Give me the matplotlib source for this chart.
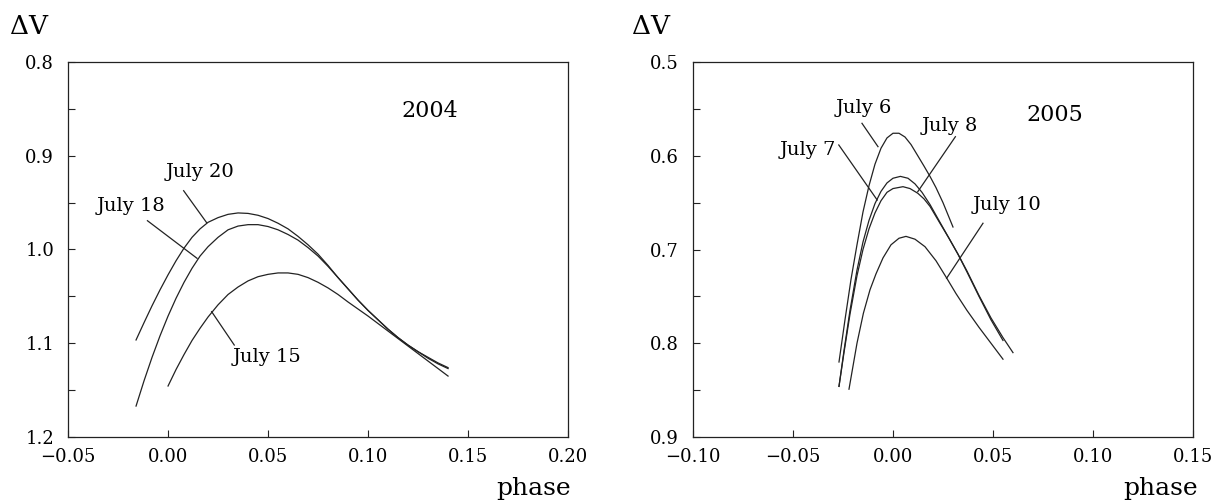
import matplotlib
matplotlib.use('Agg')
import matplotlib.pyplot as plt
from matplotlib.ticker import MultipleLocator, FuncFormatter

plt.rcParams['font.family'] = 'DejaVu Serif'

# ---- 2004 light curves (phase, delta V) ----
jul20_x = [-0.016, -0.012, -0.008, -0.004, 0.0, 0.004, 0.008, 0.012, 0.016, 0.020,
           0.025, 0.030, 0.035, 0.040, 0.045, 0.050, 0.055, 0.060, 0.065, 0.070,
           0.075, 0.080, 0.085, 0.090, 0.095, 0.100, 0.105, 0.110, 0.115, 0.120,
           0.125, 0.130, 0.135, 0.140]
jul20_y = [1.0965, 1.078, 1.060, 1.043, 1.027, 1.012, 0.9985, 0.987, 0.978, 0.971,
           0.966, 0.9625, 0.961, 0.9615, 0.9635, 0.967, 0.972, 0.978, 0.986, 0.995,
           1.005, 1.017, 1.030, 1.042, 1.054, 1.065, 1.075, 1.085, 1.094, 1.102,
           1.109, 1.115, 1.121, 1.126]

jul18_x = [-0.016, -0.012, -0.008, -0.004, 0.0, 0.004, 0.008, 0.012, 0.016, 0.020,
           0.025, 0.030, 0.035, 0.040, 0.045, 0.050, 0.055, 0.060, 0.065, 0.070,
           0.075, 0.080, 0.085, 0.090, 0.095, 0.100, 0.105, 0.110, 0.115, 0.120,
           0.125, 0.130, 0.135, 0.140]
jul18_y = [1.167, 1.140, 1.115, 1.092, 1.071, 1.052, 1.035, 1.020, 1.007, 0.997,
           0.987, 0.979, 0.975, 0.9735, 0.9735, 0.9755, 0.979, 0.984, 0.990, 0.998,
           1.007, 1.018, 1.030, 1.042, 1.054, 1.065, 1.075, 1.085, 1.094, 1.102,
           1.109, 1.116, 1.122, 1.127]

jul15_x = [0.0, 0.004, 0.008, 0.012, 0.016, 0.020, 0.025, 0.030, 0.035, 0.040,
           0.045, 0.050, 0.055, 0.060, 0.065, 0.070, 0.075, 0.080, 0.085, 0.090,
           0.095, 0.100, 0.105, 0.110, 0.115, 0.120, 0.125, 0.130, 0.135, 0.140]
jul15_y = [1.1456, 1.128, 1.112, 1.097, 1.084, 1.072, 1.059, 1.048, 1.040, 1.0335,
           1.029, 1.0265, 1.025, 1.025, 1.0265, 1.030, 1.035, 1.041, 1.048, 1.056,
           1.0635, 1.071, 1.079, 1.087, 1.095, 1.103, 1.111, 1.119, 1.127, 1.135]

# ---- 2005 light curves ----
jul6_x = [-0.027, -0.024, -0.021, -0.018, -0.015, -0.012, -0.009, -0.006, -0.003, 0.0,
          0.003, 0.006, 0.009, 0.0124, 0.0155, 0.0185, 0.0215, 0.025, 0.030]
jul6_y = [0.820, 0.775, 0.732, 0.695, 0.660, 0.632, 0.609, 0.592, 0.581, 0.576,
          0.576, 0.580, 0.588, 0.600, 0.611, 0.622, 0.634, 0.650, 0.676]

jul7_x = [-0.027, -0.0245, -0.0215, -0.018, -0.015, -0.012, -0.009, -0.006, -0.003, 0.0,
          0.0037, 0.0075, 0.011, 0.0145, 0.0185, 0.0235, 0.028, 0.0325, 0.037, 0.043,
          0.049, 0.055]
jul7_y = [0.846, 0.808, 0.765, 0.722, 0.692, 0.669, 0.651, 0.638, 0.629, 0.624,
          0.622, 0.624, 0.630, 0.639, 0.652, 0.671, 0.688, 0.705, 0.724, 0.750,
          0.775, 0.797]

jul8_x = [-0.027, -0.0245, -0.0215, -0.018, -0.015, -0.012, -0.009, -0.006, -0.003, 0.0,
          0.005, 0.0085, 0.0124, 0.0155, 0.0185, 0.0235, 0.028, 0.0325, 0.037, 0.043,
          0.049, 0.055, 0.060]
jul8_y = [0.846, 0.810, 0.769, 0.728, 0.700, 0.678, 0.661, 0.648, 0.639, 0.635,
          0.633, 0.635, 0.640, 0.646, 0.654, 0.672, 0.688, 0.705, 0.723, 0.749,
          0.773, 0.794, 0.810]

jul10_x = [-0.022, -0.018, -0.0148, -0.0115, -0.0085, -0.005, -0.001, 0.003, 0.0065,
           0.011, 0.016, 0.0215, 0.027, 0.0315, 0.037, 0.043, 0.049, 0.055]
jul10_y = [0.849, 0.800, 0.768, 0.743, 0.726, 0.709, 0.695, 0.688, 0.686,
           0.689, 0.697, 0.712, 0.731, 0.747, 0.765, 0.783, 0.800, 0.817]

LW = 0.9
COL = '#222222'


def minus_fmt(fmt):
    return FuncFormatter(lambda v, p: (fmt % v).replace('-', '\u2212'))


def style_axes(ax, xlim, ylim):
    ax.set_xlim(*xlim)
    ax.set_ylim(*ylim)  # inverted magnitude axis
    ax.xaxis.set_major_locator(MultipleLocator(0.05))
    ax.yaxis.set_major_locator(MultipleLocator(0.1))
    ax.yaxis.set_minor_locator(MultipleLocator(0.05))
    ax.xaxis.set_major_formatter(minus_fmt('%.2f'))
    ax.yaxis.set_major_formatter(minus_fmt('%.1f'))
    ax.tick_params(direction='in', length=5, width=0.8, labelsize=13,
                   top=False, right=False, color=COL)
    ax.tick_params(axis='x', pad=8)
    ax.tick_params(axis='y', pad=10)
    ax.tick_params(which='minor', direction='in', length=5, width=0.8,
                   right=False, color=COL)
    for s in ax.spines.values():
        s.set_linewidth(0.9)
        s.set_color(COL)


fig = plt.figure(figsize=(12.13, 5.0), dpi=100)
ax1 = fig.add_axes([0.0561, 0.126, 0.4122, 0.75])
ax2 = fig.add_axes([0.5713, 0.126, 0.4122, 0.75])

# left panel
for xs, ys in [(jul20_x, jul20_y), (jul18_x, jul18_y), (jul15_x, jul15_y)]:
    ax1.plot(xs, ys, color=COL, lw=LW)
style_axes(ax1, (-0.05, 0.20), (1.2, 0.8))
ax1.text(0.131, 0.852, '2004', fontsize=16, ha='center', va='center')
ax1.text(0.016, 0.9173, 'July 20', fontsize=14, ha='center', va='center')
ax1.plot([0.0078, 0.0193], [0.9373, 0.9714], color=COL, lw=LW)
ax1.text(-0.0185, 0.9536, 'July 18', fontsize=14, ha='center', va='center')
ax1.plot([-0.0103, 0.0145], [0.9693, 1.0094], color=COL, lw=LW)
ax1.text(0.0495, 1.1147, 'July 15', fontsize=14, ha='center', va='center')
ax1.plot([0.0331, 0.0218], [1.1019, 1.0663], color=COL, lw=LW)

# right panel
for xs, ys in [(jul6_x, jul6_y), (jul7_x, jul7_y), (jul8_x, jul8_y), (jul10_x, jul10_y)]:
    ax2.plot(xs, ys, color=COL, lw=LW)
style_axes(ax2, (-0.10, 0.15), (0.9, 0.5))
ax2.text(0.081, 0.5565, '2005', fontsize=16, ha='center', va='center')
ax2.text(-0.0148, 0.549, 'July 6', fontsize=14, ha='center', va='center')
ax2.plot([-0.0155, -0.0075], [0.5654, 0.5903], color=COL, lw=LW)
ax2.text(0.0283, 0.5683, 'July 8', fontsize=14, ha='center', va='center')
ax2.plot([0.0312, 0.0124], [0.5797, 0.6383], color=COL, lw=LW)
ax2.text(-0.0427, 0.5939, 'July 7', fontsize=14, ha='center', va='center')
ax2.plot([-0.0271, -0.0079], [0.5885, 0.6472], color=COL, lw=LW)
ax2.text(0.057, 0.6525, 'July 10', fontsize=14, ha='center', va='center')
ax2.plot([0.045, 0.0268], [0.672, 0.7307], color=COL, lw=LW)

# axis captions
for x in (0.024, 0.537):
    fig.text(x, 0.948, '\u0394V', fontsize=19, ha='center', va='center')
for x in (0.440, 0.957):
    fig.text(x, 0.024, 'phase', fontsize=18, ha='center', va='center')

fig.savefig('out.png', dpi=100)
plt.close(fig)
